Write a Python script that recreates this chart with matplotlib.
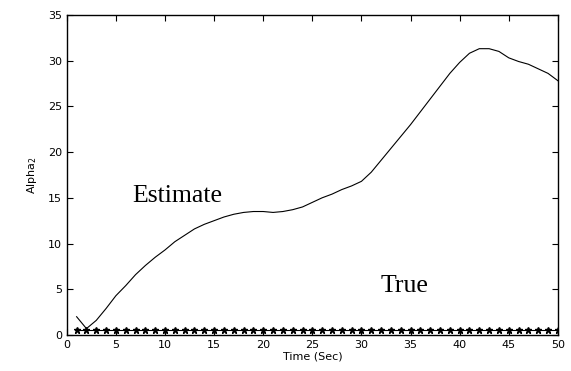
import matplotlib.pyplot as plt
import numpy as np

# Estimated alpha_2 curve
t_est = [1, 2, 3, 4, 5, 6, 7, 8, 9, 10, 11, 12, 13, 14, 15, 16, 17, 18, 19, 20,
         21, 22, 23, 24, 25, 26, 27, 28, 29, 30, 31, 32, 33, 34, 35, 36, 37, 38,
         39, 40, 41, 42, 43, 44, 45, 46, 47, 48, 49, 50]
alpha_est = [2.0, 0.7, 1.6, 2.9, 4.3, 5.4, 6.6, 7.6, 8.5, 9.3, 10.2, 10.9, 11.6,
             12.1, 12.5, 12.9, 13.2, 13.4, 13.5, 13.5, 13.4, 13.5, 13.7, 14.0,
             14.5, 15.0, 15.4, 15.9, 16.3, 16.8, 17.8, 19.1, 20.4, 21.7, 23.0,
             24.4, 25.8, 27.2, 28.6, 29.8, 30.8, 31.3, 31.3, 31.0, 30.3, 29.9,
             29.6, 29.1, 28.6, 27.8]

# True alpha_2 (constant)
t_true = np.arange(1, 51)
alpha_true = [0.6] * len(t_true)

fig = plt.figure(figsize=(5.71, 3.71), dpi=100)
ax = fig.add_axes([0.117, 0.097, 0.86, 0.863])

ax.plot(t_est, alpha_est, color='black', linewidth=0.8)
ax.plot(t_true, alpha_true, color='black', linewidth=0.8, marker='*', markersize=4.5)

ax.text(11.2, 15.2, 'Estimate', fontsize=18.5, family='Liberation Serif', ha='center', va='center')
ax.text(34.4, 5.4, 'True', fontsize=18.5, family='Liberation Serif', ha='center', va='center')

ax.set_xlim(0, 50)
ax.set_ylim(0, 35)
ax.set_xticks(range(0, 51, 5))
ax.set_yticks(range(0, 36, 5))
ax.tick_params(direction='in', top=True, right=True, labelsize=8, length=4, width=0.8)
ax.set_xlabel('Time (Sec)', fontsize=8, labelpad=1)
ax.set_ylabel('Alpha$_2$', fontsize=8, labelpad=6)
for s in ax.spines.values():
    s.set_linewidth(1.0)

fig.savefig('out.png', dpi=100)
